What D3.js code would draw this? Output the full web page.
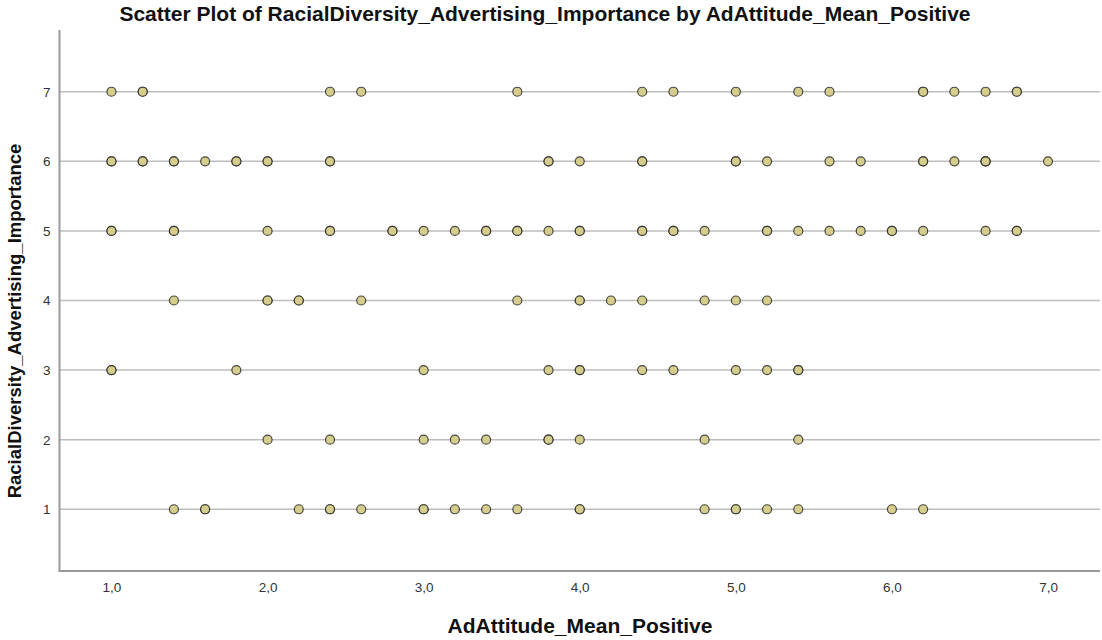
<!DOCTYPE html>
<html>
<head>
<meta charset="utf-8">
<script src="https://cdn.jsdelivr.net/npm/d3@7"></script>
<style>
  html, body { margin: 0; padding: 0; background: #fff; }
  svg { display: block; font-family: "Liberation Sans", Arial, sans-serif; }
</style>
</head>
<body>
<svg id="chart" width="1102" height="640"></svg>
<script>
// Response rows: RacialDiversity_Advertising_Importance (1..7)
const importanceLevels = [1, 2, 3, 4, 5, 6, 7];

// AdAttitude_Mean_Positive for each respondent, grouped by importance level
// (repeated values are respondents sharing the same position)
const attitudeAt7 = [1.0, 1.2, 1.2, 2.4, 2.6, 3.6, 4.4, 4.6, 5.0, 5.4, 5.6, 6.2, 6.2, 6.4, 6.6, 6.8, 6.8];
const attitudeAt6 = [1.0, 1.0, 1.2, 1.2, 1.4, 1.4, 1.6, 1.8, 1.8, 2.0, 2.0, 2.4, 2.4, 3.8, 3.8, 4.0, 4.4, 4.4, 5.0, 5.0, 5.2, 5.6, 5.8, 6.2, 6.2, 6.4, 6.6, 6.6, 6.6, 7.0];
const attitudeAt5 = [1.0, 1.0, 1.4, 1.4, 2.0, 2.4, 2.4, 2.8, 2.8, 3.0, 3.2, 3.4, 3.4, 3.6, 3.6, 3.8, 4.0, 4.0, 4.4, 4.4, 4.6, 4.6, 4.8, 5.2, 5.2, 5.4, 5.6, 5.8, 6.0, 6.0, 6.2, 6.6, 6.8, 6.8];
const attitudeAt4 = [1.4, 2.0, 2.0, 2.2, 2.2, 2.6, 3.6, 4.0, 4.0, 4.2, 4.4, 4.8, 5.0, 5.2];
const attitudeAt3 = [1.0, 1.0, 1.8, 3.0, 3.8, 4.0, 4.0, 4.4, 4.6, 5.0, 5.2, 5.4, 5.4];
const attitudeAt2 = [2.0, 2.4, 3.0, 3.2, 3.4, 3.8, 3.8, 4.0, 4.8, 5.4];
const attitudeAt1 = [1.4, 1.6, 1.6, 2.2, 2.4, 2.4, 2.6, 3.0, 3.0, 3.2, 3.4, 3.6, 4.0, 4.0, 4.8, 5.0, 5.0, 5.2, 5.4, 6.0, 6.2];

const xTickValues = [1, 2, 3, 4, 5, 6, 7];
const yTickValues = [1, 2, 3, 4, 5, 6, 7];

const titleText = "Scatter Plot of RacialDiversity_Advertising_Importance by AdAttitude_Mean_Positive";
const xLabel = "AdAttitude_Mean_Positive";
const yLabel = "RacialDiversity_Advertising_Importance";

const groups = [attitudeAt1, attitudeAt2, attitudeAt3, attitudeAt4, attitudeAt5, attitudeAt6, attitudeAt7];
const points = [];
groups.forEach((vals, i) => vals.forEach(v => points.push({ x: v, y: importanceLevels[i] })));

const svg = d3.select("#chart");
const plotLeft = 59.5, plotRight = 1100, plotTop = 30, plotBottom = 571;

const x = d3.scaleLinear().domain([0.667, 7.333]).range([plotLeft, plotRight]);
const y = d3.scaleLinear().domain([0.113, 7.887]).range([plotBottom, plotTop]);

// horizontal reference lines at each response level
svg.append("g")
  .selectAll("line")
  .data(yTickValues)
  .join("line")
  .attr("x1", plotLeft).attr("x2", plotRight)
  .attr("y1", d => y(d)).attr("y2", d => y(d))
  .attr("stroke", "#bdbdbd")
  .attr("stroke-width", 1.5);

// axes
const commaFmt = d => d3.format(".1f")(d).replace(".", ",");
const xAxis = svg.append("g")
  .attr("transform", `translate(0,${plotBottom})`)
  .call(d3.axisBottom(x).tickValues(xTickValues).tickSize(0).tickPadding(11).tickFormat(commaFmt));
const yAxis = svg.append("g")
  .attr("transform", `translate(${plotLeft},0)`)
  .call(d3.axisLeft(y).tickValues(yTickValues).tickSize(0).tickPadding(9).tickFormat(d3.format("d")));

[xAxis, yAxis].forEach(g => {
  g.select(".domain").attr("stroke", "#9a9a9a").attr("stroke-width", 2);
  g.selectAll("text")
    .attr("fill", "#333")
    .style("font-size", "13.5px")
    .style("font-family", "'Liberation Sans', Arial, sans-serif");
});
xAxis.select(".domain").attr("d", `M${plotLeft - 1},0H${plotRight}`);
yAxis.select(".domain").attr("d", `M0,${plotTop}V${plotBottom}`);

// markers
svg.append("g")
  .selectAll("circle")
  .data(points)
  .join("circle")
  .attr("cx", d => x(d.x))
  .attr("cy", d => y(d.y))
  .attr("r", 4.5)
  .attr("fill", "#d4cd8c")
  .attr("stroke", "#2a2a2a")
  .attr("stroke-width", 1.2)
  .attr("stroke-opacity", 0.85);

// titles
svg.append("text")
  .attr("x", 545).attr("y", 21)
  .attr("text-anchor", "middle")
  .style("font-size", "21px").style("font-weight", "bold")
  .attr("fill", "#111")
  .text(titleText);

svg.append("text")
  .attr("x", 580).attr("y", 633)
  .attr("text-anchor", "middle")
  .style("font-size", "21px").style("font-weight", "bold")
  .attr("fill", "#111")
  .text(xLabel);

svg.append("text")
  .attr("transform", `translate(21,321) rotate(-90)`)
  .attr("text-anchor", "middle")
  .style("font-size", "18.5px").style("font-weight", "bold")
  .attr("fill", "#111")
  .text(yLabel);
</script>
</body>
</html>
